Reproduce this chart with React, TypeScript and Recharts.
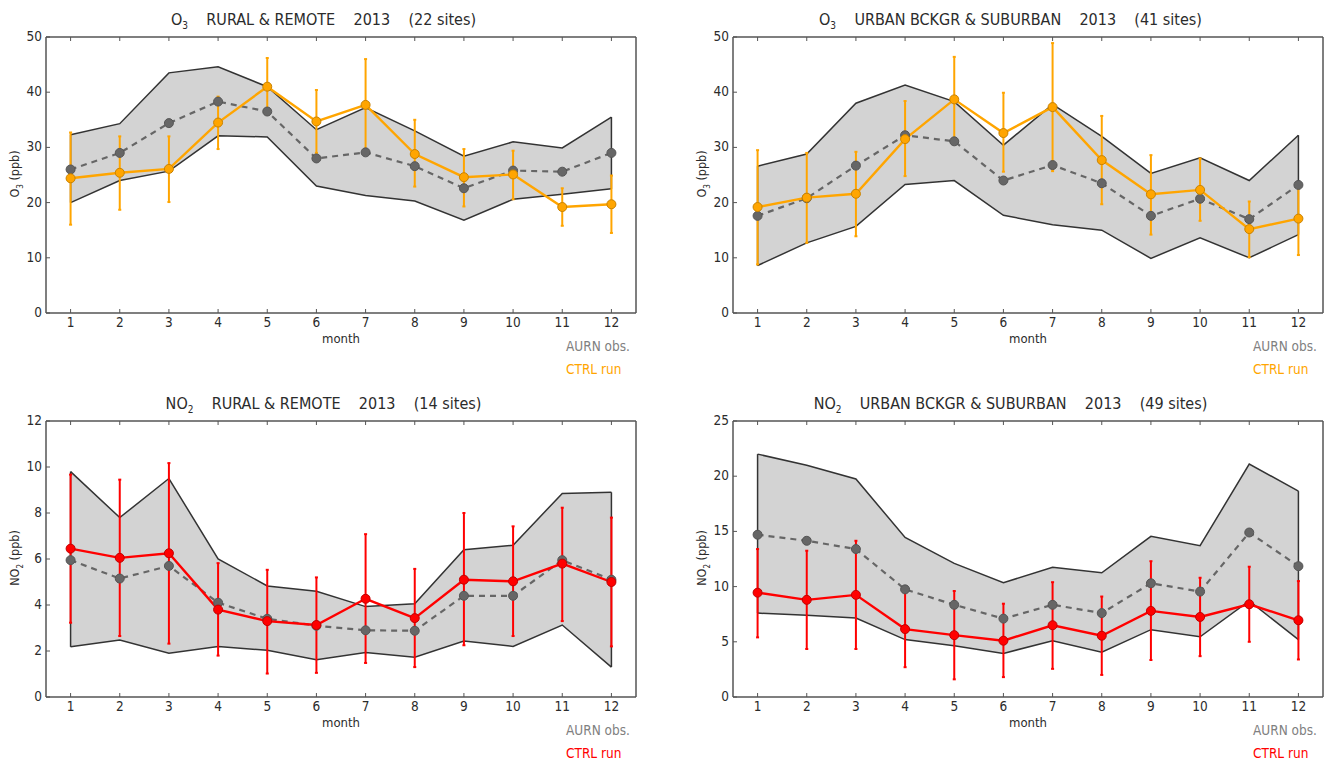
import { Area, ComposedChart, ErrorBar, Line, ReferenceLine, XAxis, YAxis } from 'recharts';

const months = [1, 2, 3, 4, 5, 6, 7, 8, 9, 10, 11, 12];

// O3 rural & remote
const o3RuralHigh = [32.3, 34.3, 43.5, 44.6, 41, 33.2, 37.2, 33, 28.4, 31, 29.9, 35.5];
const o3RuralLow = [20, 24, 25.7, 32.1, 31.9, 23, 21.3, 20.3, 16.8, 20.6, 21.5, 22.5];
const o3RuralObs = [26, 29, 34.4, 38.3, 36.5, 28, 29.1, 26.6, 22.6, 25.8, 25.6, 29];
const o3RuralModel = [24.4, 25.4, 26.1, 34.5, 41, 34.7, 37.7, 28.8, 24.6, 25.1, 19.2, 19.7];
const o3RuralErrLow = [16, 18.7, 20.1, 29.7, 36, 29, 29.4, 22.9, 19.3, 20.6, 15.8, 14.5];
const o3RuralErrHigh = [32.7, 32, 32, 39.2, 46.2, 40.4, 46, 35, 29.7, 29.4, 22.6, 24.9];

// O3 urban background & suburban
const o3UrbanHigh = [26.6, 28.8, 38, 41.3, 38.3, 30.4, 37.8, 32, 25.3, 28.1, 24, 32.2];
const o3UrbanLow = [8.6, 12.7, 15.7, 23.3, 24, 17.7, 16, 15, 9.9, 13.6, 10, 14.2];
const o3UrbanObs = [17.6, 20.8, 26.7, 32.2, 31.1, 24, 26.8, 23.5, 17.6, 20.7, 17, 23.2];
const o3UrbanModel = [19.2, 20.9, 21.6, 31.5, 38.7, 32.6, 37.3, 27.7, 21.5, 22.3, 15.2, 17.1];
const o3UrbanErrLow = [8.8, 12.7, 13.9, 24.8, 31, 25.6, 25.7, 19.7, 14.2, 16.7, 10.1, 10.5];
const o3UrbanErrHigh = [29.5, 29, 29.2, 38.4, 46.4, 39.9, 48.9, 35.7, 28.6, 28, 20.2, 23.5];

// NO2 rural & remote
const no2RuralHigh = [9.8, 7.8, 9.5, 6, 4.83, 4.6, 3.93, 4.05, 6.4, 6.6, 8.85, 8.9];
const no2RuralLow = [2.18, 2.48, 1.9, 2.2, 2.03, 1.62, 1.93, 1.73, 2.43, 2.2, 3.13, 1.3];
const no2RuralObs = [5.95, 5.15, 5.7, 4.1, 3.4, 3.1, 2.9, 2.88, 4.4, 4.4, 5.95, 5.1];
const no2RuralModel = [6.45, 6.05, 6.25, 3.8, 3.3, 3.13, 4.27, 3.43, 5.1, 5.03, 5.8, 5];
const no2RuralErrLow = [3.23, 2.65, 2.32, 1.8, 1.02, 1.05, 1.48, 1.3, 2.25, 2.65, 3.3, 2.2];
const no2RuralErrHigh = [9.67, 9.45, 10.17, 5.82, 5.53, 5.2, 7.08, 5.57, 8, 7.42, 8.23, 7.8];

// NO2 urban background & suburban
const no2UrbanHigh = [22, 21, 19.75, 14.45, 12.1, 10.35, 11.75, 11.25, 14.55, 13.7, 21.1, 18.65];
const no2UrbanLow = [7.6, 7.4, 7.15, 5.2, 4.65, 3.95, 5.1, 4.05, 6.1, 5.45, 8.7, 5.2];
const no2UrbanObs = [14.7, 14.15, 13.4, 9.75, 8.35, 7.1, 8.35, 7.6, 10.3, 9.55, 14.9, 11.85];
const no2UrbanModel = [9.45, 8.8, 9.25, 6.15, 5.6, 5.1, 6.5, 5.55, 7.8, 7.25, 8.4, 6.95];
const no2UrbanErrLow = [5.4, 4.35, 4.35, 2.7, 1.6, 1.8, 2.55, 2, 3.35, 3.7, 5, 3.4];
const no2UrbanErrHigh = [13.4, 13.25, 14.15, 9.7, 9.6, 8.45, 10.4, 9.1, 12.3, 10.8, 11.8, 10.5];

const o3Ticks = [0, 10, 20, 30, 40, 50];
const no2RuralTicks = [0, 2, 4, 6, 8, 10, 12];
const no2UrbanTicks = [0, 5, 10, 15, 20, 25];

const FONT = '"DejaVu Sans Condensed", "DejaVu Sans", sans-serif';
const INK = '#2b2b2b';
const FRAME = '#555555';
const ORANGE = '#ffa500';
const RED = '#ff0000';
const OBS = '#666666';

const axisLine = { stroke: FRAME, strokeWidth: 1.5 };

function buildRows(high: number[], low: number[], obs: number[], model: number[], errLow: number[], errHigh: number[]) {
  return months.map((month, i) => ({
    month,
    high: high[i],
    low: low[i],
    obs: obs[i],
    model: model[i],
    err: [model[i] - errLow[i], errHigh[i] - model[i]],
  }));
}

function BottomTick({ x, y, payload }: any) {
  return (
    <g>
      <line x1={x} x2={x} y1={y} y2={y - 4} stroke={FRAME} />
      <text x={x} y={y + 14} textAnchor="middle" fontSize={13.5} fontFamily={FONT} fill={INK}>{payload.value}</text>
    </g>
  );
}

function TopTick({ x, y }: any) {
  return <line x1={x} x2={x} y1={y} y2={y + 4} stroke={FRAME} />;
}

function LeftTick({ x, y, payload }: any) {
  return (
    <g>
      <line x1={x} x2={x + 4} y1={y} y2={y} stroke={FRAME} />
      <text x={x - 4} y={y + 4} textAnchor="end" fontSize={13.5} fontFamily={FONT} fill={INK}>{payload.value}</text>
    </g>
  );
}

function RightTick({ x, y }: any) {
  return <line x1={x} x2={x - 4} y1={y} y2={y} stroke={FRAME} />;
}

type PanelProps = {
  left: number;
  top: number;
  species: string;
  sub: string;
  title: string;
  sites: string;
  yMax: number;
  yTicks: number[];
  color: string;
  markerEdge: string;
  rows: ReturnType<typeof buildRows>;
};

function Panel({ left, top, species, sub, title, sites, yMax, yTicks, color, markerEdge, rows }: PanelProps) {
  const first = rows[0];
  const last = rows[rows.length - 1];
  return (
    <div style={{ position: 'absolute', left, top, width: 663, height: 381, fontFamily: FONT, color: INK }}>
      <div style={{ position: 'absolute', left: 28, width: 591, top: 10, textAlign: 'center', fontSize: 16, whiteSpace: 'pre', lineHeight: '20px' }}>
        {species}<sub style={{ fontSize: 10, lineHeight: 0 }}>{sub}</sub>{`    ${title}    2013    (${sites} sites)`}
      </div>
      <div style={{ position: 'absolute', left: 15, top: 174, width: 0, height: 0 }}>
        <div style={{ position: 'absolute', transform: 'translate(-50%, -50%) rotate(-90deg)', fontSize: 12.5, whiteSpace: 'pre', lineHeight: '14px' }}>
          {species}<sub style={{ fontSize: 8, lineHeight: 0 }}>{sub}</sub>{' (ppb)'}
        </div>
      </div>
      <div style={{ position: 'absolute', left: 46, width: 590, top: 331, textAlign: 'center', fontSize: 13, lineHeight: '16px' }}>month</div>
      <div style={{ position: 'absolute', left: 566, top: 338, fontSize: 13.5, lineHeight: '16px', color: '#808080' }}>AURN obs.</div>
      <div style={{ position: 'absolute', left: 566, top: 361, fontSize: 13.5, lineHeight: '16px', color }}>CTRL run</div>
      <ComposedChart width={663} height={381} data={rows} margin={{ top: 36, right: 26, bottom: 38, left: 16 }}>
        <XAxis dataKey="month" type="number" domain={[0.5, 12.5]} ticks={months} interval={0} height={30} tickSize={0} tickMargin={0} axisLine={axisLine} tick={BottomTick} />
        <XAxis xAxisId="top" orientation="top" dataKey="month" type="number" domain={[0.5, 12.5]} ticks={months} interval={0} height={1} tickSize={0} tickMargin={0} axisLine={axisLine} tick={TopTick} />
        <YAxis type="number" domain={[0, yMax]} ticks={yTicks} interval={0} width={30} tickSize={0} tickMargin={0} axisLine={axisLine} tick={LeftTick} />
        <YAxis yAxisId="right" orientation="right" type="number" domain={[0, yMax]} ticks={yTicks} interval={0} width={1} tickSize={0} tickMargin={0} axisLine={axisLine} tick={RightTick} />
        <Area dataKey={(d: any) => [d.low, d.high]} type="linear" fill="#d3d3d3" fillOpacity={1} stroke="#333333" strokeWidth={1.5} dot={false} activeDot={false} isAnimationActive={false} />
        <ReferenceLine segment={[{ x: first.month, y: first.low }, { x: first.month, y: first.high }]} stroke="#333333" strokeWidth={1.5} />
        <ReferenceLine segment={[{ x: last.month, y: last.low }, { x: last.month, y: last.high }]} stroke="#333333" strokeWidth={1.5} />
        <Line dataKey="obs" type="linear" stroke={OBS} strokeWidth={2.2} strokeDasharray="6 5" dot={{ r: 4.5, fill: OBS, stroke: '#555555', strokeWidth: 1, strokeDasharray: '' }} activeDot={false} isAnimationActive={false} />
        <Line dataKey="model" type="linear" stroke={color} strokeWidth={2.4} dot={{ r: 4.5, fill: color, stroke: markerEdge, strokeWidth: 1 }} activeDot={false} isAnimationActive={false}>
          <ErrorBar dataKey="err" direction="y" width={1.5} stroke={color} strokeWidth={2} isAnimationActive={false} />
        </Line>
      </ComposedChart>
    </div>
  );
}

export default function App() {
  return (
    <div style={{ position: 'absolute', left: 0, top: 0, width: 1326, height: 763, background: '#fff', overflow: 'hidden' }}>
      <Panel left={0} top={0} species="O" sub="3" title="RURAL & REMOTE" sites="22" yMax={50} yTicks={o3Ticks} color={ORANGE} markerEdge="#c98200"
        rows={buildRows(o3RuralHigh, o3RuralLow, o3RuralObs, o3RuralModel, o3RuralErrLow, o3RuralErrHigh)} />
      <Panel left={687} top={0} species="O" sub="3" title="URBAN BCKGR & SUBURBAN" sites="41" yMax={50} yTicks={o3Ticks} color={ORANGE} markerEdge="#c98200"
        rows={buildRows(o3UrbanHigh, o3UrbanLow, o3UrbanObs, o3UrbanModel, o3UrbanErrLow, o3UrbanErrHigh)} />
      <Panel left={0} top={384} species="NO" sub="2" title="RURAL & REMOTE" sites="14" yMax={12} yTicks={no2RuralTicks} color={RED} markerEdge="#c00000"
        rows={buildRows(no2RuralHigh, no2RuralLow, no2RuralObs, no2RuralModel, no2RuralErrLow, no2RuralErrHigh)} />
      <Panel left={687} top={384} species="NO" sub="2" title="URBAN BCKGR & SUBURBAN" sites="49" yMax={25} yTicks={no2UrbanTicks} color={RED} markerEdge="#c00000"
        rows={buildRows(no2UrbanHigh, no2UrbanLow, no2UrbanObs, no2UrbanModel, no2UrbanErrLow, no2UrbanErrHigh)} />
    </div>
  );
}
